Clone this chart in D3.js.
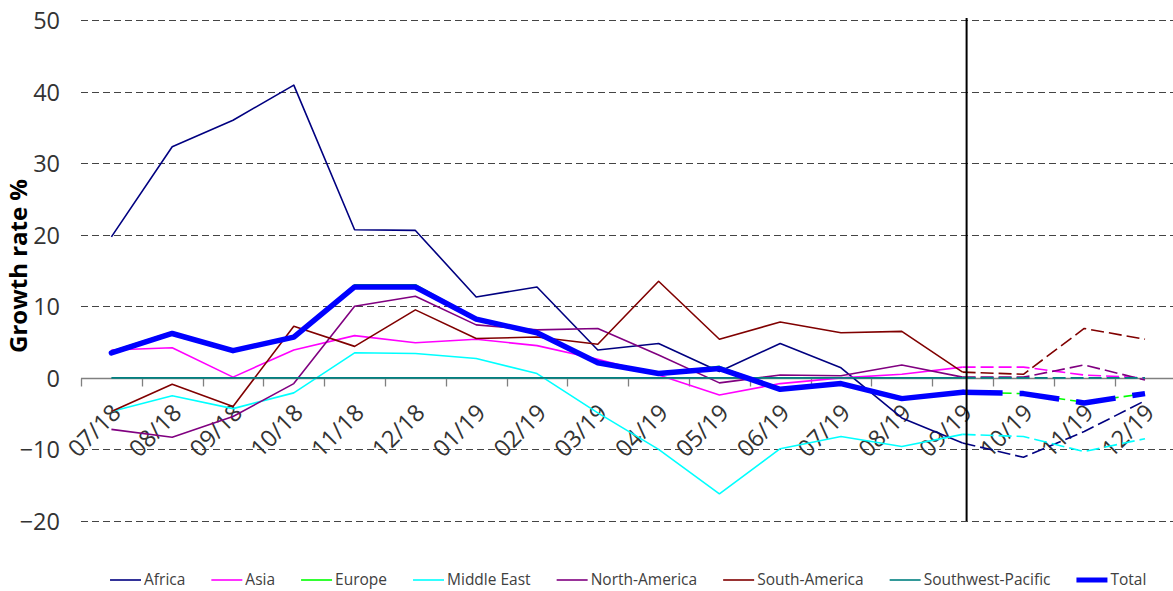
<!DOCTYPE html>
<html><head><meta charset="utf-8">
<script src="https://cdn.jsdelivr.net/npm/d3@7"></script>
<style>
body{margin:0;background:#fff}
svg{display:block}
text{font-family:'Open Sans',sans-serif}
</style>
</head><body>
<svg id="chart" width="1173" height="591"></svg>
<script>
// ---- data ----
const categories = ["07/18","08/18","09/18","10/18","11/18","12/18","01/19","02/19","03/19","04/19","05/19","06/19","07/19","08/19","09/19","10/19","11/19","12/19"];
const lastActual = "09/19";
const seriesNames = ["Africa","Asia","Europe","Middle East","North-America","South-America","Southwest-Pacific","Total"];
const africa       = [19.7, 32.3, 36.0, 40.9, 20.7, 20.6, 11.3, 12.7, 3.9, 4.8, 0.9, 4.8, 1.4, -5.6, -9.1, -11.1, -7.5, -3.2];
const asia         = [3.9, 4.2, 0.1, 3.9, 5.9, 4.9, 5.4, 4.5, 2.6, 0.4, -2.4, -0.8, 0.0, 0.5, 1.5, 1.5, 0.4, 0.0];
const europe       = [3.7, 6.4, 3.8, 5.8, 13.0, 13.0, 8.3, 6.4, 2.2, 0.6, 1.6, -1.6, -0.8, -2.9, -2.0, -2.2, -3.4, -2.2];
const middleEast   = [-4.7, -2.5, -4.3, -2.1, 3.5, 3.4, 2.7, 0.6, -4.9, -10.0, -16.2, -9.9, -8.2, -9.6, -7.9, -8.2, -10.3, -8.5];
const northAmerica = [-7.2, -8.3, -5.4, -0.8, 10.0, 11.4, 7.4, 6.7, 6.9, 3.2, -0.7, 0.4, 0.3, 1.8, 0.1, 0.1, 1.8, -0.3];
const southAmerica = [-4.7, -0.9, -4.0, 7.2, 4.4, 9.5, 5.5, 5.7, 4.7, 13.5, 5.4, 7.8, 6.3, 6.5, 0.8, 0.5, 6.9, 5.4];
const swPacific    = [0, 0, 0, 0, 0, 0, 0, 0, 0, 0, 0, 0, 0, 0, 0, 0, 0, 0];
const total        = [3.5, 6.2, 3.8, 5.7, 12.7, 12.7, 8.2, 6.3, 2.1, 0.6, 1.3, -1.6, -0.8, -2.9, -2.0, -2.2, -3.5, -2.2];
const yTicks = [-20, -10, 0, 10, 20, 30, 40, 50];
const yTitle = "Growth rate %";

// ---- styles ----
const seriesValues = [africa, asia, europe, middleEast, northAmerica, southAmerica, swPacific, total];
const seriesColors = ["#000080","#ff00ff","#00ff00","#00ffff","#800080","#800000","#008080","#0000ff"];
const seriesWidths = [1.6,1.6,1.6,1.6,1.6,1.6,1.6,5.5];
const seriesDash   = ["13,5","13,5","13,5","13,5","13,5","13,5","13,5","40,17"];

const svg = d3.select("#chart");
const W = 1173, H = 591;
const plot = {left: 81, right: 1175.4, top: 20, bottom: 521};

const x = d3.scaleBand().domain(categories).range([plot.left, plot.right]).paddingInner(0).paddingOuter(0);
const xc = c => x(c) + x.bandwidth() / 2;
const y = d3.scaleLinear().domain([-20, 50]).range([plot.bottom, plot.top]);

// gridlines
const grid = svg.append("g");
grid.selectAll("line").data(yTicks.filter(t => t !== 0)).join("line")
  .attr("x1", plot.left).attr("x2", W)
  .attr("y1", d => Math.round(y(d)) + 0.5).attr("y2", d => Math.round(y(d)) + 0.5)
  .attr("stroke", "#444").attr("stroke-width", 1).attr("stroke-dasharray", "7,4");

// y axis labels
const yAxis = d3.axisLeft(y).tickValues(yTicks).tickSize(0).tickPadding(0).tickFormat(d3.format("d"));
const yg = svg.append("g").attr("transform", `translate(${plot.left - 21},0)`).call(yAxis);
yg.select(".domain").remove();
yg.selectAll("text").attr("font-size", 23.5).attr("fill", "#333").attr("font-family", "'Open Sans',sans-serif").attr("dy", "0.36em");

// x axis at zero
const xAxis = d3.axisBottom(x).tickSize(0).tickFormat(d => d);
const xg = svg.append("g").attr("transform", `translate(0,${Math.round(y(0)) + 0.5})`).call(xAxis);
xg.select(".domain").attr("stroke", "#808080").attr("stroke-width", 1.3).attr("d", `M${plot.left},0H${W}`);
xg.selectAll(".tick text")
  .attr("font-size", 23.5).attr("fill", "#333").attr("font-family", "'Open Sans',sans-serif")
  .attr("text-anchor", "end")
  .attr("transform", "translate(5,30) rotate(-45)")
  .attr("x", 0).attr("y", 0).attr("dy", "0.35em");
// category boundary ticks
const bounds = categories.map(c => x(c));
xg.selectAll(".bt").data(bounds).join("line").attr("class", "bt")
  .attr("x1", d => Math.round(d) + 0.5).attr("x2", d => Math.round(d) + 0.5)
  .attr("y1", 0).attr("y2", 8).attr("stroke", "#808080").attr("stroke-width", 1.3);

// y title
svg.append("text").attr("transform", `translate(27,${266}) rotate(-90)`)
  .attr("text-anchor", "middle").attr("font-size", 24).attr("font-weight", "bold").attr("fill", "#000")
  .text(yTitle);

// series lines
const line = d3.line().x(d => xc(d.c)).y(d => y(d.v));
const splitIdx = categories.indexOf(lastActual);
const linesG = svg.append("g").attr("fill", "none");
seriesValues.forEach((vals, i) => {
  const pts = vals.map((v, j) => ({c: categories[j], v}));
  linesG.append("path").attr("d", line(pts.slice(0, splitIdx + 1)))
    .attr("stroke", seriesColors[i]).attr("stroke-width", seriesWidths[i])
    .attr("stroke-linejoin", "round").attr("stroke-linecap", i === 7 ? "round" : "butt");
  linesG.append("path").attr("d", line(pts.slice(splitIdx)))
    .attr("stroke", seriesColors[i]).attr("stroke-width", seriesWidths[i])
    .attr("stroke-dasharray", seriesDash[i]).attr("stroke-linejoin", "round");
});

// vertical forecast separator
svg.append("line")
  .attr("x1", xc(lastActual) + 4).attr("x2", xc(lastActual) + 4)
  .attr("y1", plot.top - 2).attr("y2", plot.bottom)
  .attr("stroke", "#000").attr("stroke-width", 2);

// legend
const leg = svg.append("g");
let cx = 0;
seriesNames.forEach((n, i) => {
  const g = leg.append("g");
  g.append("line").attr("x1", 0).attr("x2", 31).attr("y1", 0).attr("y2", 0)
    .attr("stroke", seriesColors[i]).attr("stroke-width", i === 7 ? 5 : 1.6);
  const t = g.append("text").attr("x", 34).attr("y", 0).attr("dy", "0.35em")
    .attr("font-size", 15.5).attr("fill", "#404040").text(n);
  const w = 34 + t.node().getComputedTextLength();
  g.attr("transform", `translate(${cx},0)`);
  cx += w + 26;
});
const legW = cx - 26;
const legX = (plot.left + plot.right) / 2 - legW / 2;
leg.attr("transform", `translate(${legX},580)`);
</script>
</body></html>
